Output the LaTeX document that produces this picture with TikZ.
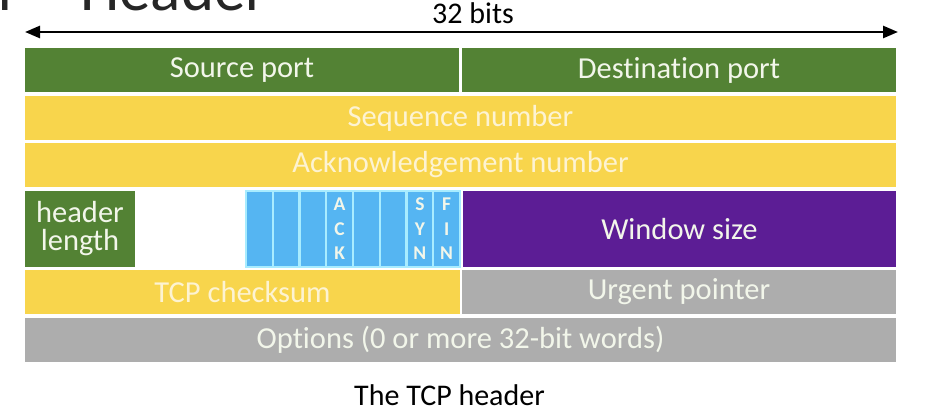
\documentclass[tikz,border=0pt]{standalone}
\usepackage{fontspec}
\setmainfont{Carlito}[Ligatures=NoCommon]
\usetikzlibrary{arrows.meta}
\definecolor{tgreen}{HTML}{538234}
\definecolor{tyellow}{HTML}{F8D54C}
\definecolor{tpurple}{HTML}{5C1D95}
\definecolor{tblue}{HTML}{55B5F2}
\definecolor{tcyan}{HTML}{A8ECFF}
\definecolor{tgray}{HTML}{ADADAD}
\definecolor{tlight}{HTML}{F2F6EA}
\definecolor{tcream}{HTML}{FDF3D2}
\definecolor{ttitle}{HTML}{262626}
\begin{document}
\begin{tikzpicture}[x=1pt,y=-1pt,
  field/.style={inner sep=0pt, outer sep=0pt, anchor=north west,
    font=\fontsize{30.5}{28}\selectfont, text=tlight, align=center},
  greenf/.style={field, fill=tgreen},
  yellowf/.style={field, fill=tyellow, text=tcream},
  grayf/.style={field, fill=tgray},
  purplef/.style={field, fill=tpurple},
  flagcell/.style={inner sep=0pt, outer sep=0pt, anchor=north west, fill=tblue,
    draw=tcyan, line width=2.4pt, minimum width=26.75pt, minimum height=76pt},
  flagletter/.style={inner sep=0pt, font=\fontsize{19.5}{19.5}\selectfont\bfseries, text=tlight},
  label/.style={inner sep=0pt, font=\fontsize{30}{30}\selectfont, text=black},
  span/.style={line width=2.6pt, {Triangle[length=15pt,width=12pt]}-{Triangle[length=15pt,width=12pt]}}
]
\clip (0,0) rectangle (928,418);
\fill[white] (0,0) rectangle (928,418);

% partial title at top edge
\node[inner sep=0pt, anchor=base east, font=\fontsize{63}{63}\selectfont, text=ttitle] (tr) at (21,10) {r};
\node[inner sep=0pt, anchor=base west, font=\fontsize{63}{63}\selectfont, text=ttitle] (th) at (80,10) {Header};

% 32 bits span
\coordinate (al) at (25,32);
\coordinate (ar) at (898,32);
\draw[span] (al) -- (ar);
\node[label, anchor=base west] (bits) at (432,23) {32 bits};

% row 1
\node[greenf, minimum width=434pt, minimum height=44pt] (src) at (25,48) {Source port};
\node[greenf, minimum width=434pt, minimum height=44pt] (dst) at (462,48) {Destination port};
% row 2, 3
\node[yellowf, minimum width=871pt, minimum height=44pt] (seq) at (25,96) {Sequence number};
\node[yellowf, minimum width=871pt, minimum height=44pt] (ack) at (25,143) {Acknowledgement number};
% row 4
\node[greenf, minimum width=110pt, minimum height=76pt] (hl) at (25,191) {header\\length};
\foreach \i in {0,...,7} {
  \node[flagcell] (f\i) at ({246+26.75*\i},191) {};
}
\node[flagletter] (a1) at ([yshift=24.5pt]f3.center) {A};
\node[flagletter] (a2) at (f3.center) {C};
\node[flagletter] (a3) at ([yshift=-24.5pt]f3.center) {K};
\node[flagletter] (s1) at ([yshift=24.5pt]f6.center) {S};
\node[flagletter] (s2) at (f6.center) {Y};
\node[flagletter] (s3) at ([yshift=-24.5pt]f6.center) {N};
\node[flagletter] (n1) at ([yshift=24.5pt]f7.center) {F};
\node[flagletter] (n2) at (f7.center) {I};
\node[flagletter] (n3) at ([yshift=-24.5pt]f7.center) {N};
\node[purplef, minimum width=433pt, minimum height=76pt] (win) at (463,191) {Window size};
% row 5
\node[yellowf, minimum width=435pt, minimum height=44pt] (cks) at (25,270) {TCP checksum};
\node[grayf, minimum width=434pt, minimum height=44pt] (urg) at (462,270) {Urgent pointer};
% row 6
\node[grayf, minimum width=871pt, minimum height=44pt] (opt) at (25,318) {Options (0 or more 32-bit words)};

% caption
\node[label, anchor=base] (cap) at (449.5,405) {The TCP header};
\end{tikzpicture}
\end{document}
